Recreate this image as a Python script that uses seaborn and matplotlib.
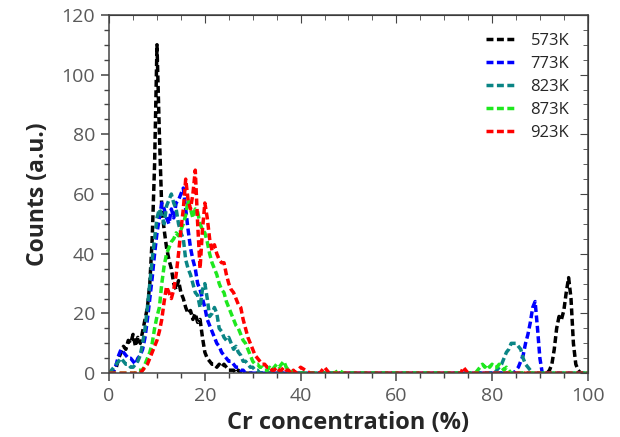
import numpy as np
import pandas as pd
import matplotlib
matplotlib.use("Agg")
import matplotlib.pyplot as plt
import seaborn as sns

# x grids: fine steps where the peaks are, coarse in the empty middle
x_left = np.arange(0, 40.5, 0.5)
x_mid = np.arange(41, 70, 1.0)
x_right = np.arange(70, 100.5, 0.5)

labels = ["573K", "773K", "823K", "873K", "923K"]
colors = ["#000000", "#0000ff", "#0a8585", "#1ee81e", "#ff0000"]

k573_left = [0, 0, 1, 2, 5, 7, 9, 8, 11, 10,
             13, 9, 12, 10, 14, 18, 22, 30, 45, 70,
             110, 80, 55, 48, 42, 38, 35, 30, 28, 31,
             27, 25, 22, 20, 21, 18, 20, 17, 18, 12,
             7, 5, 4, 3, 3, 2, 3, 2, 3, 2,
             1, 1, 1, 0, 1, 0, 0, 0, 0, 0,
             0, 0, 0, 0, 0, 0, 0, 0, 0, 0,
             0, 0, 0, 0, 0, 0, 0, 0, 0, 0, 0]
k773_left = [0, 0, 1, 3, 6, 8, 7, 6, 5, 5,
             4, 3, 5, 6, 8, 12, 18, 25, 32, 40,
             47, 52, 57, 55, 52, 50, 55, 52, 57, 58,
             60, 62, 55, 48, 42, 38, 35, 30, 28, 25,
             22, 18, 16, 14, 12, 10, 9, 7, 6, 5,
             4, 4, 3, 2, 2, 1, 1, 0, 0, 0,
             0, 0, 0, 0, 0, 0, 0, 0, 0, 0,
             0, 0, 0, 0, 0, 0, 0, 0, 0, 0, 0]
k823_left = [0, 1, 2, 3, 4, 5, 4, 3, 3, 2,
             2, 3, 4, 6, 10, 15, 22, 30, 38, 45,
             52, 55, 53, 50, 56, 58, 60, 57, 55, 50,
             47, 45, 38, 35, 33, 30, 27, 26, 22, 28,
             30, 25, 19, 20, 22, 20, 15, 14, 12, 11,
             12, 10, 8, 9, 7, 6, 4, 4, 3, 2,
             2, 1, 1, 0, 0, 0, 0, 0, 0, 0,
             0, 0, 0, 0, 0, 0, 0, 0, 0, 0, 0]
k873_left = [0, 0, 0, 0, 0, 0, 0, 0, 0, 0,
             0, 0, 1, 1, 1, 3, 5, 7, 10, 15,
             19, 22, 30, 36, 40, 42, 44, 45, 47, 46,
             48, 50, 53, 58, 55, 52, 55, 54, 50, 48,
             47, 44, 40, 37, 35, 33, 30, 28, 27, 24,
             22, 20, 18, 16, 15, 13, 11, 10, 8, 6,
             4, 3, 3, 2, 2, 1, 1, 2, 1, 2,
             3, 2, 3, 4, 2, 1, 1, 0, 0, 0, 0]
k923_left = [0, 0, 0, 0, 0, 0, 0, 0, 0, 0,
             0, 0, 0, 0, 1, 2, 3, 5, 7, 9,
             11, 14, 18, 24, 29, 27, 25, 28, 33, 40,
             48, 55, 65, 58, 55, 60, 68, 50, 35, 48,
             57, 52, 45, 41, 43, 40, 38, 37, 37, 33,
             30, 28, 27, 25, 23, 22, 18, 15, 12, 10,
             8, 6, 5, 4, 3, 3, 2, 2, 1, 1,
             2, 1, 1, 2, 1, 1, 0, 1, 0, 1, 2]

k573_mid = [0] * 29
k773_mid = [0] * 29
k823_mid = [0] * 29
k873_mid = [0, 0, 0, 0, 0, 0, 0, 1, 0, 0, 0, 0, 0, 0, 0,
            0, 0, 0, 0, 0, 0, 0, 0, 0, 0, 0, 0, 0, 0]
k923_mid = [1, 0, 0, 0, 2, 0, 0, 0, 0, 0, 0, 0, 0, 0, 0,
            0, 0, 0, 0, 0, 0, 0, 0, 0, 0, 0, 0, 0, 0]

k573_right = [0] * 44 + [1, 3, 8, 15, 19, 18, 21, 27, 32, 25, 10, 3, 1, 0, 0, 0, 0]
k773_right = [0] * 30 + [1, 2, 4, 6, 10, 13, 17, 22, 24, 15, 5, 0] + [0] * 19
k823_right = [0] * 22 + [1, 2, 3, 5, 7, 8, 10, 10, 10, 9, 8, 5, 3, 2, 1, 0] + [0] * 23
k873_right = [0] * 14 + [1, 2, 3, 2, 3, 2, 3, 2, 2, 3, 2, 1, 2, 1] + [0] * 33
k923_right = [0] * 8 + [2, 1] + [0] * 51

series = {
    "573K": k573_left + k573_mid + k573_right,
    "773K": k773_left + k773_mid + k773_right,
    "823K": k823_left + k823_mid + k823_right,
    "873K": k873_left + k873_mid + k873_right,
    "923K": k923_left + k923_mid + k923_right,
}
x_all = np.concatenate([x_left, x_mid, x_right])

sns.set_style("ticks")
plt.rcParams['font.family'] = ['Open Sans', 'DejaVu Sans']

fig = plt.figure(figsize=(6.2, 4.37), dpi=100)
ax = fig.add_axes([0.176, 0.146, 0.772, 0.82])

for lab, col in zip(labels, colors):
    sns.lineplot(x=x_all, y=series[lab], color=col, label=lab, ax=ax,
                 linewidth=2.5, linestyle=(0, (2, 1)), errorbar=None)

ax.set_xlim(0, 100)
ax.set_ylim(0, 120)
ax.set_xticks(np.arange(0, 101, 20))
ax.set_yticks(np.arange(0, 121, 20))
ax.set_xticks(np.arange(0, 101, 5), minor=True)
ax.set_yticks(np.arange(0, 121, 5), minor=True)
ax.tick_params(which='major', direction='out', length=6, width=1.1,
               labelsize=14, labelcolor='#5a5a5a', color='#444444', pad=4)
ax.tick_params(which='minor', direction='out', length=3.5, width=1.0, color='#444444')

# inward ticks on top and right
top = ax.secondary_xaxis('top')
top.set_xticks(np.arange(0, 101, 20))
top.set_xticks(np.arange(0, 101, 5), minor=True)
top.tick_params(which='major', direction='in', length=6, labeltop=False, color='#444444')
top.tick_params(which='minor', direction='in', length=3.5, color='#444444')
right = ax.secondary_yaxis('right')
right.set_yticks(np.arange(0, 121, 20))
right.set_yticks(np.arange(0, 121, 5), minor=True)
right.tick_params(which='major', direction='in', length=6, labelright=False, color='#444444')
right.tick_params(which='minor', direction='in', length=3.5, color='#444444')

for sp in ax.spines.values():
    sp.set_color('#444444')
    sp.set_linewidth(1.1)

ax.set_xlabel("Cr concentration (%)", fontsize=17, fontweight='bold', labelpad=4)
ax.set_ylabel("Counts (a.u.)", fontsize=16.5, fontweight='bold', labelpad=8)

ax.legend(loc='upper right', frameon=False, fontsize=12, handlelength=1.9,
          handletextpad=0.8, labelspacing=0.42, borderaxespad=0.7)

fig.savefig("out.png", dpi=100)
